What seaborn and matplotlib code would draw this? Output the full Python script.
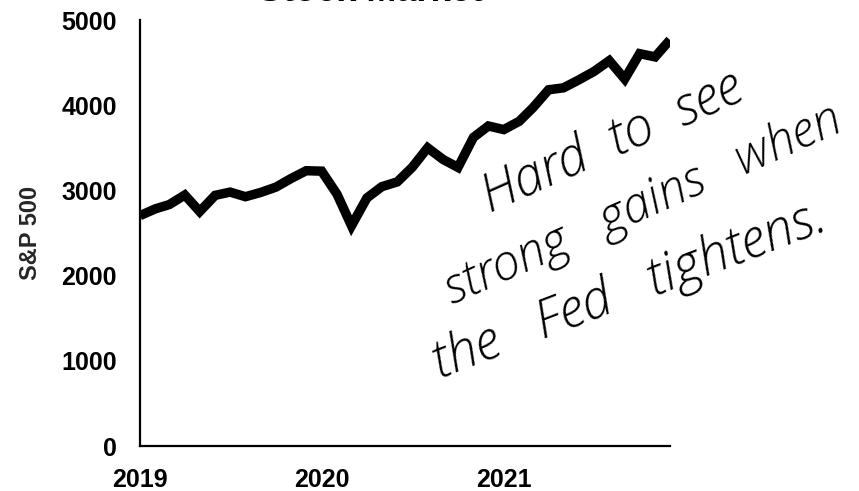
import matplotlib
matplotlib.use("Agg")
import matplotlib.pyplot as plt
import seaborn as sns
import pandas as pd

# ---- data (monthly S&P 500) ----
months = pd.date_range("2019-01-01", periods=36, freq="MS")
sp500 = [2704, 2784, 2834, 2946, 2752, 2942, 2980, 2926, 2977, 3038, 3141, 3231,
         3226, 2954, 2585, 2912, 3044, 3100, 3271, 3500, 3363, 3270, 3622, 3756,
         3714, 3811, 3973, 4181, 4204, 4298, 4395, 4523, 4308, 4605, 4567, 4766]
year_ticks = ["2019", "2020", "2021"]
y_ticks = [0, 1000, 2000, 3000, 4000, 5000]
title = "Stock Market"
ylabel = "S&P 500"
note_lines = ["Hard  to  see", "strong   gains   when", "the   Fed   tightens."]

df = pd.DataFrame({"month": months, "value": sp500})

sns.set_theme(style="white")
plt.rcParams["font.family"] = ["Liberation Sans", "DejaVu Sans"]

fig = plt.figure(figsize=(8.59, 4.91), dpi=100)
ax = fig.add_axes([140 / 859, 1 - 446 / 491, 530 / 859, 426 / 491])

sns.lineplot(data=df, x="month", y="value", ax=ax, color="black",
             linewidth=6.8, solid_joinstyle="miter", solid_capstyle="butt")

ax.set_xlim(months[0], months[-1])
ax.set_ylim(0, 5000)
ax.set_yticks(y_ticks)
ax.set_yticklabels([str(v) for v in y_ticks], fontsize=18, fontweight="bold")
ax.set_xticks([pd.Timestamp(y + "-01-01") for y in year_ticks])
ax.set_xticklabels(year_ticks, fontsize=18, fontweight="bold")
ax.set_xlabel("")
ax.set_ylabel(ylabel, fontsize=17, fontweight="bold", labelpad=14)

for side in ["top", "right"]:
    ax.spines[side].set_visible(False)
for side in ["left", "bottom"]:
    ax.spines[side].set_color("black")
    ax.spines[side].set_linewidth(1.6)
ax.tick_params(axis="both", direction="inout", length=11, width=1.6,
               color="black", labelcolor="black")
ax.tick_params(axis="y", pad=11)
ax.tick_params(axis="x", pad=10)

fig.text(370 / 859, 1 - 0.8 / 491, title, ha="center", va="baseline",
         fontsize=26, fontweight="bold", color="black")

hand = dict(family=["Open Sans", "DejaVu Sans"], style="italic",
            fontweight="light", color="black", ha="left",
            va="baseline", rotation_mode="anchor")
fig.text(490 / 859, 1 - 213 / 491, note_lines[0], rotation=24, fontsize=38, **hand)
fig.text(452 / 859, 1 - 304 / 491, note_lines[1], rotation=24, fontsize=35.5, **hand)
fig.text(440 / 859, 1 - 378 / 491, note_lines[2], rotation=21, fontsize=38, **hand)

fig.savefig("out.png", dpi=100, facecolor="white")
